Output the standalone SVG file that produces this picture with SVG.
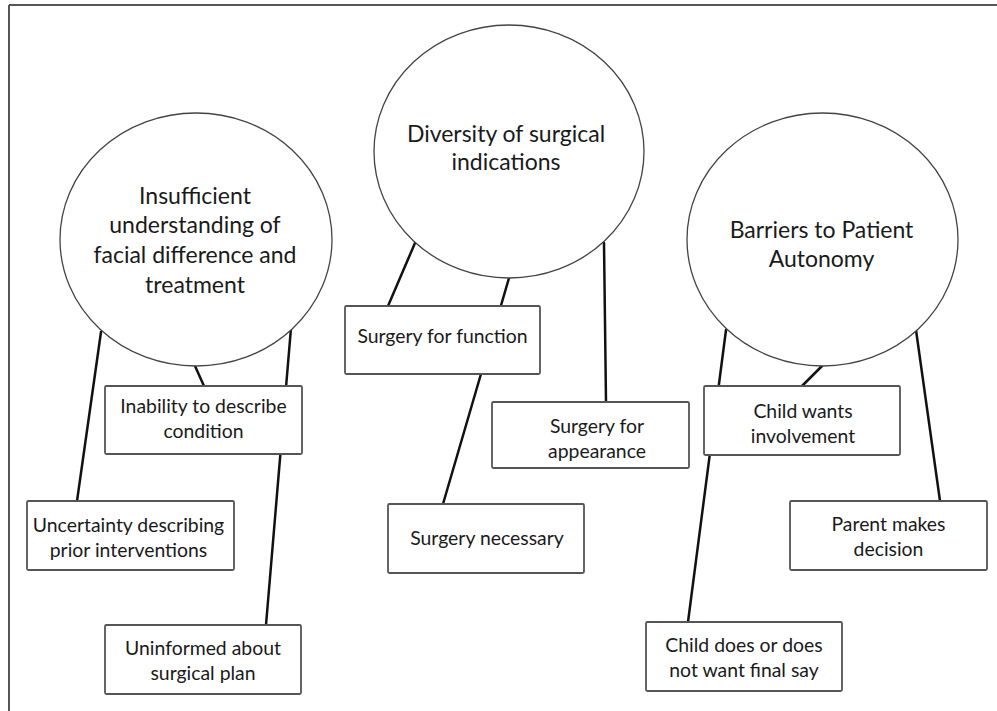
<svg xmlns="http://www.w3.org/2000/svg" width="997" height="711" viewBox="0 0 997 711">
<style>
.frame{stroke:#555;stroke-width:2;fill:none}
.circ{fill:#fff;stroke:#444;stroke-width:1.3}
.box{fill:#fff;stroke:#555;stroke-width:1.8}
.conn{stroke:#111;stroke-width:2.5;fill:none;stroke-linecap:round}
text{font-family:Lato,"Liberation Sans",sans-serif;fill:#1a1a1a;text-anchor:middle}
.ct{font-size:23px}
.bt{font-size:19.4px}
</style>
<rect width="997" height="711" fill="#fff"/>
<g id="frame">
<line class="frame" x1="9" y1="5" x2="997" y2="5"/>
<line class="frame" x1="9" y1="5" x2="9" y2="711"/>
</g>
<g id="connectors">
<line class="conn" x1="101" y1="332" x2="77" y2="501"/>
<line class="conn" x1="195" y1="366" x2="204" y2="386"/>
<line class="conn" x1="291" y1="328" x2="266" y2="625"/>
<line class="conn" x1="415" y1="243" x2="388" y2="306"/>
<line class="conn" x1="509" y1="278" x2="443" y2="504"/>
<line class="conn" x1="604" y1="243" x2="606" y2="402"/>
<line class="conn" x1="822" y1="366" x2="802" y2="386"/>
<line class="conn" x1="726" y1="330" x2="688" y2="622"/>
<line class="conn" x1="916" y1="330" x2="940" y2="501"/>
</g>
<g id="c1">
<ellipse class="circ" cx="196" cy="239.5" rx="136" ry="126.5"/>
<text class="ct" x="195" y="204">Insufficient</text>
<text class="ct" x="195" y="233">understanding of</text>
<text class="ct" x="195" y="263">facial difference and</text>
<text class="ct" x="195" y="293">treatment</text>
</g>
<g id="c2">
<ellipse class="circ" cx="509" cy="151.5" rx="135" ry="126.5"/>
<text class="ct" x="506" y="142">Diversity of surgical</text>
<text class="ct" x="506" y="170">indications</text>
</g>
<g id="c3">
<ellipse class="circ" cx="822.5" cy="239.5" rx="135.5" ry="126.5"/>
<text class="ct" x="821.5" y="238">Barriers to Patient</text>
<text class="ct" x="821.5" y="267">Autonomy</text>
</g>
<g id="b-inability">
<rect class="box" x="105" y="386" width="197" height="68" rx="1.5"/>
<text class="bt" x="203.5" y="413">Inability to describe</text>
<text class="bt" x="203.5" y="438">condition</text>
</g>
<g id="b-uncertainty">
<rect class="box" x="27" y="501" width="207" height="69" rx="1.5"/>
<text class="bt" x="128.5" y="532">Uncertainty describing</text>
<text class="bt" x="128.5" y="557">prior interventions</text>
</g>
<g id="b-uninformed">
<rect class="box" x="105" y="625" width="196" height="69" rx="1.5"/>
<text class="bt" x="203" y="655">Uninformed about</text>
<text class="bt" x="203" y="680">surgical plan</text>
</g>
<g id="b-function">
<rect class="box" x="345" y="306" width="195" height="68" rx="1.5"/>
<text class="bt" x="442.5" y="343">Surgery for function</text>
</g>
<g id="b-necessary">
<rect class="box" x="388" y="504" width="196" height="69" rx="1.5"/>
<text class="bt" x="487" y="545">Surgery necessary</text>
</g>
<g id="b-appearance">
<rect class="box" x="492" y="402" width="197" height="66" rx="1.5"/>
<text class="bt" x="597" y="433">Surgery for</text>
<text class="bt" x="597" y="458">appearance</text>
</g>
<g id="b-childwants">
<rect class="box" x="704" y="386" width="196" height="69" rx="1.5"/>
<text class="bt" x="803" y="418">Child wants</text>
<text class="bt" x="803" y="443">involvement</text>
</g>
<g id="b-parent">
<rect class="box" x="790" y="501" width="197" height="69" rx="1.5"/>
<text class="bt" x="888.5" y="531">Parent makes</text>
<text class="bt" x="888.5" y="556">decision</text>
</g>
<g id="b-finalsay">
<rect class="box" x="646" y="622" width="196" height="69" rx="1.5"/>
<text class="bt" x="744" y="652">Child does or does</text>
<text class="bt" x="744" y="677">not want final say</text>
</g>
</svg>
